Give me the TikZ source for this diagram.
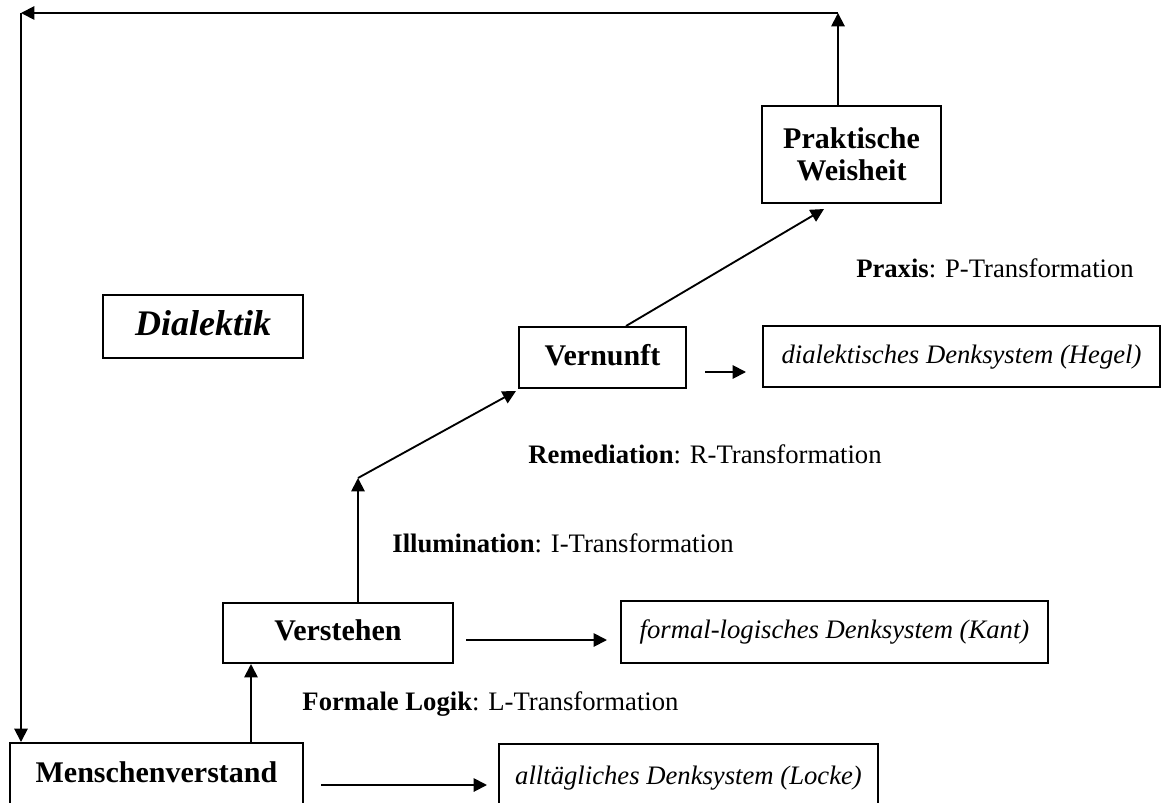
\documentclass[tikz,border=0pt]{standalone}
\usepackage{fontspec}
\setmainfont{Liberation Serif}
\usetikzlibrary{arrows.meta,calc}
\newlength{\pxu}\setlength{\pxu}{0.75pt}
\begin{document}
\begin{tikzpicture}[x=0.75pt,y=-0.75pt,
  box/.style={draw, line width=1.5pt, inner sep=0pt, align=center},
  bfbox/.style={box, font={\fontsize{22.5pt}{24pt}\selectfont\bfseries}, text height=21\pxu, text depth=6\pxu},
  itbox/.style={box, font={\fontsize{20pt}{22pt}\selectfont\itshape}, text height=19\pxu, text depth=5.4\pxu},
  lab/.style={inner sep=0pt, font={\fontsize{20pt}{22pt}\selectfont}},
  arr/.style={line width=1.4pt, -{Triangle[length=10pt,width=10pt]}}]
\useasboundingbox (0,0) rectangle (1162,802);
\clip (0,0) rectangle (1162,802);
% boxes
\node[bfbox, minimum width=293\pxu, minimum height=63\pxu] (mv) at (156.5,774.5) {Menschenverstand};
\node[itbox, minimum width=379\pxu, minimum height=67\pxu] (ad) at (688.5,777.5) {alltägliches Denksystem (Locke)};
\node[bfbox, minimum width=230\pxu, minimum height=60\pxu] (vs) at (338,633) {Verstehen};
\node[itbox, minimum width=427\pxu, minimum height=62\pxu] (fd) at (834.5,632) {formal-logisches Denksystem (Kant)};
\node[bfbox, minimum width=167\pxu, minimum height=61\pxu] (vn) at (602.5,357.5) {Vernunft};
\node[itbox, minimum width=397\pxu, minimum height=61\pxu] (dd) at (961.5,356.5) {dialektisches Denksystem (Hegel)};
\node[box, font={\fontsize{22.5pt}{24pt}\selectfont\bfseries}, minimum width=179\pxu, minimum height=97\pxu] (pw) at (851.5,154.5) {Praktische\\Weisheit};
\node[box, font={\fontsize{27pt}{29pt}\selectfont\bfseries\itshape}, text height=25\pxu, text depth=7\pxu, minimum width=200\pxu, minimum height=63\pxu] (dl) at (203,326.5) {Dialektik};
% labels
\node[lab, anchor=base] (lp) at (995,277) {\textbf{Praxis}: P-Transformation};
\node[lab, anchor=base] (lr) at (705,463) {\textbf{Remediation}: R-Transformation};
\node[lab, anchor=base] (li) at (563,552) {\textbf{Illumination}: I-Transformation};
\node[lab, anchor=base] (ll) at (490.5,710) {\textbf{Formale Logik}: L-Transformation};
% coordinates
\coordinate (c1) at (251,0);
\coordinate (bend) at (358,478);
\coordinate (tr) at (838,13);
\coordinate (tl) at (21,13);
% connectors
\draw[arr] (mv.north -| c1) -- (vs.south -| c1);
\draw[arr] (vs.north -| bend) -- (bend);
\draw[arr] (bend) -- ($(vn.south west)+(-2,2)$);
\draw[arr] ($(vn.north west)+(108,0)$) -- ($(pw.south west)+(63,5)$);
\draw[arr] (pw.north -| tr) -- (tr);
\draw[arr] (tr) -- (tl);
\draw[arr] (tl) -- (mv.north -| tl);
\draw[arr] ($(mv.east)+(17,10.5)$) -- ($(ad.west)+(-11,7.5)$);
\draw[arr] ($(vs.east)+(12,7)$) -- ($(fd.west)+(-13,8)$);
\draw[arr] ($(vn.east)+(18,14.5)$) -- ($(dd.west)+(-16,15.5)$);
\end{tikzpicture}
\end{document}
